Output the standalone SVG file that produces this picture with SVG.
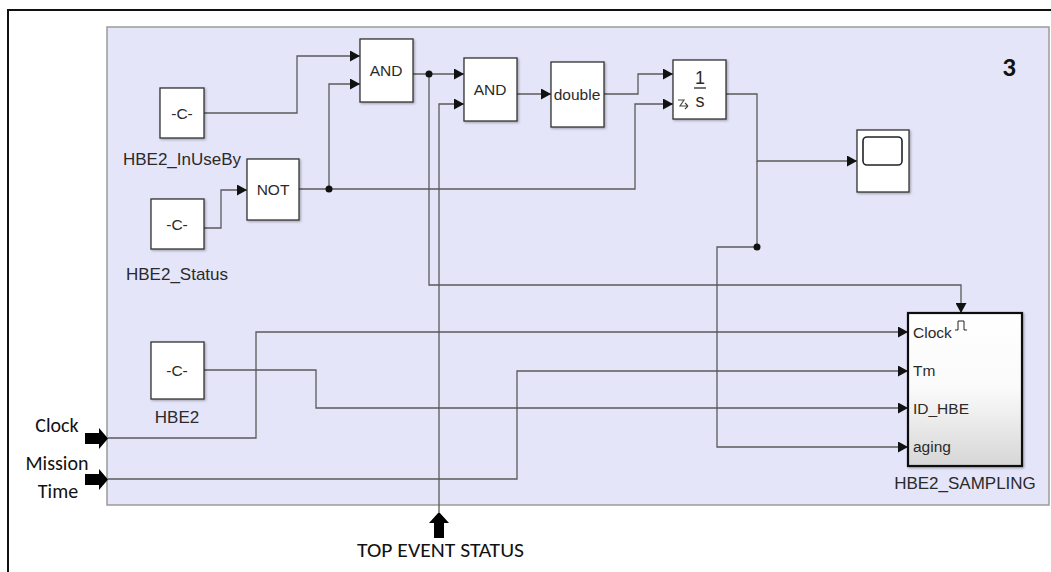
<svg xmlns="http://www.w3.org/2000/svg" width="1051" height="572" viewBox="0 0 1051 572">
<style>
.blk{fill:#fff;stroke:#333;stroke-width:1.3;filter:url(#sh)}
.w{fill:none;stroke:#5a5a5a;stroke-width:1.3}
.wa{fill:none;stroke:#5a5a5a;stroke-width:1.3;marker-end:url(#ar)}
.t{font-family:"Liberation Sans",Arial,sans-serif;fill:#2a2a2a}
.c{text-anchor:middle}
.lbl{font-size:17px}
.in{font-size:15.5px}
.cal{font-family:Carlito,"Liberation Sans",Arial,sans-serif;fill:#111;font-size:20px}
.jn{fill:#111}
.big{fill:#000}
</style>
<defs>
<marker id="ar" markerUnits="userSpaceOnUse" markerWidth="10" markerHeight="11" refX="10" refY="5.5" orient="auto">
<path d="M0,0 L10,5.5 L0,11 z" fill="#111"/>
</marker>
<filter id="sh" x="-10%" y="-10%" width="130%" height="130%">
<feDropShadow dx="1.2" dy="1.2" stdDeviation="1" flood-color="#000" flood-opacity="0.3"/>
</filter>
<linearGradient id="gr" x1="0" y1="0" x2="0" y2="1">
<stop offset="0" stop-color="#ffffff"/>
<stop offset="0.5" stop-color="#fafafa"/>
<stop offset="1" stop-color="#d6d6d6"/>
</linearGradient>
</defs>
<rect x="0" y="0" width="1051" height="572" fill="#fff"/>
<path d="M8,572 V10 H1051" fill="none" stroke="#111" stroke-width="2"/>
<rect id="panel" x="107" y="27" width="942" height="478" fill="#e5e5fa" stroke="#9a9a9a" stroke-width="1.5"/>
<text x="1009" y="76" font-family="Carlito,'Liberation Sans',Arial,sans-serif" font-size="27" font-weight="bold" text-anchor="middle" fill="#111">3</text>

<g id="connectors">
<path class="wa" d="M204,113 H297 V56 H360"/>
<path class="wa" d="M204,228 H221 V190 H247"/>
<path class="wa" d="M299,189 H329 V84 H360"/>
<path class="wa" d="M329,189 H635 V104 H673"/>
<path class="wa" d="M413,74 H464"/>
<path class="wa" d="M429,74 V285 H961 V313"/>
<path class="wa" d="M439,512 V104 H464"/>
<path class="wa" d="M517,94 H551"/>
<path class="wa" d="M604,94 H638 V74 H673"/>
<path class="wa" d="M726,94 H757 V161 H857"/>
<path class="wa" d="M757,161 V247 H717 V447 H908"/>
<path class="wa" d="M108,438 H256 V332 H908"/>
<path class="wa" d="M108,479 H517 V371 H908"/>
<path class="wa" d="M204,370 H316 V408 H908"/>
<circle class="jn" cx="329" cy="189" r="3.5"/>
<circle class="jn" cx="429" cy="74" r="3.5"/>
<circle class="jn" cx="757" cy="247" r="3.5"/>
</g>

<g id="HBE2_InUseBy">
<rect class="blk" x="160" y="88" width="44" height="50"/>
<text class="t c in" x="182" y="119">-C-</text>
<text class="t c lbl" x="182" y="165">HBE2_InUseBy</text>
</g>
<g id="HBE2_Status">
<rect class="blk" x="151" y="199" width="53" height="50"/>
<text class="t c in" x="177" y="230">-C-</text>
<text class="t c lbl" x="177" y="280">HBE2_Status</text>
</g>
<g id="NOT">
<rect class="blk" x="247" y="159" width="52" height="61"/>
<text class="t c in" x="273" y="195">NOT</text>
</g>
<g id="AND1">
<rect class="blk" x="360" y="39" width="53" height="63"/>
<text class="t c in" x="386" y="76">AND</text>
</g>
<g id="AND2">
<rect class="blk" x="464" y="58" width="53" height="63"/>
<text class="t c in" x="490" y="95">AND</text>
</g>
<g id="double">
<rect class="blk" x="551" y="62" width="53" height="65"/>
<text class="t c in" x="577" y="100">double</text>
</g>
<g id="integrator">
<rect class="blk" x="673" y="60" width="53" height="59"/>
<text class="t c" x="700" y="84" font-size="18">1</text>
<line x1="694" y1="88" x2="706" y2="88" stroke="#2a2a2a" stroke-width="1.3"/>
<text class="t c" x="700" y="107" font-size="18">s</text>
<path d="M678,100 H684 L680,106 H688 M688,106 L685,103 M688,106 L685,109" fill="none" stroke="#444" stroke-width="1.1"/>
</g>
<g id="scope">
<rect class="blk" x="857" y="130" width="52" height="62"/>
<rect x="863" y="137" width="39" height="28" rx="4" fill="#fff" stroke="#222" stroke-width="1.6"/>
</g>
<g id="HBE2">
<rect class="blk" x="151" y="342" width="53" height="57"/>
<text class="t c in" x="177" y="376">-C-</text>
<text class="t c lbl" x="177" y="423">HBE2</text>
</g>
<g id="HBE2_SAMPLING">
<rect x="908" y="313" width="114" height="153" fill="url(#gr)" stroke="#111" stroke-width="2.2" filter="url(#sh)"/>
<text class="t" x="913" y="338" font-size="15.5">Clock</text>
<path d="M955,330 H958 V321 H964 V330 H967" fill="none" stroke="#222" stroke-width="1"/>
<text class="t" x="913" y="376" font-size="15.5">Tm</text>
<text class="t" x="913" y="414" font-size="15.5">ID_HBE</text>
<text class="t" x="913" y="452" font-size="15.5">aging</text>
<text class="t c lbl" x="965" y="489">HBE2_SAMPLING</text>
</g>
<g id="clock_in">
<path class="big" d="M85,433 H99 V428 L108,438.5 L99,449 V444 H85 z"/>
<text class="cal" x="57" y="432" text-anchor="middle">Clock</text>
</g>
<g id="mission_in">
<path class="big" d="M85,474 H99 V469 L108,479.5 L99,490 V485 H85 z"/>
<text class="cal" x="57" y="470" text-anchor="middle">Mission</text>
<text class="cal" x="58" y="498" text-anchor="middle">Time</text>
</g>
<g id="top_event_in">
<path class="big" d="M434,538 V523 H429 L439,512 L449,523 H444 V538 z"/>
<text class="cal" x="357" y="557" textLength="167" lengthAdjust="spacingAndGlyphs">TOP EVENT STATUS</text>
</g>
</svg>
